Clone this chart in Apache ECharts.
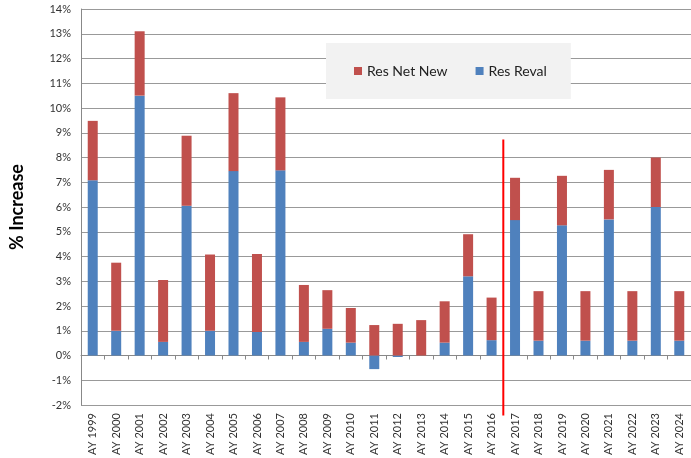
<!DOCTYPE html>
<html>
<head>
<meta charset="utf-8">
<script src="https://cdn.jsdelivr.net/npm/echarts@6/dist/echarts.min.js"></script>
<style>
html,body{margin:0;padding:0;background:#fff;}
#chart{width:691px;height:458px;}
</style>
</head>
<body>
<div id="chart"></div>
<script>
var categories = ['AY 1999','AY 2000','AY 2001','AY 2002','AY 2003','AY 2004','AY 2005','AY 2006','AY 2007','AY 2008','AY 2009','AY 2010','AY 2011','AY 2012','AY 2013','AY 2014','AY 2015','AY 2016','AY 2017','AY 2018','AY 2019','AY 2020','AY 2021','AY 2022','AY 2023','AY 2024'];
var resReval = [7.08, 1.0, 10.5, 0.55, 6.05, 1.0, 7.45, 0.95, 7.48, 0.55, 1.08, 0.52, -0.55, -0.06, 0.0, 0.52, 3.2, 0.62, 5.47, 0.6, 5.26, 0.6, 5.5, 0.6, 6.0, 0.6];
var resNetNew = [2.4, 2.75, 2.6, 2.5, 2.83, 3.08, 3.15, 3.15, 2.95, 2.3, 1.56, 1.4, 1.23, 1.28, 1.43, 1.67, 1.7, 1.72, 1.71, 2.0, 2.0, 2.0, 2.0, 2.0, 2.0, 2.0];
var dividerLine = [[18, 8.73], [18, -2.42]];

var font = 'Lato, "Open Sans", sans-serif';
var chart = echarts.init(document.getElementById('chart'), null, {renderer: 'canvas'});
chart.setOption({
  animation: false,
  textStyle: {fontFamily: font},
  grid: {left: 78, right: 0, top: 9, bottom: 53, containLabel: false},
  legend: {
    data: ['Res Net New', 'Res Reval'],
    left: 326, top: 43,
    padding: [21, 24, 21, 28],
    itemGap: 28,
    itemWidth: 8, itemHeight: 8,
    icon: 'rect',
    backgroundColor: '#f2f2f2',
    textStyle: {fontSize: 14, color: '#222', fontFamily: font}
  },
  xAxis: [
    {
      type: 'category', data: categories, position: 'bottom',
      axisLine: {show: false, onZero: false},
      axisTick: {show: false},
      axisLabel: {rotate: 90, interval: 0, fontSize: 11, color: '#333', margin: 8, fontFamily: font},
      splitLine: {show: false}
    },
    {
      type: 'category', data: categories, position: 'bottom',
      axisLine: {show: true, onZero: true, lineStyle: {color: '#888', width: 1}},
      axisTick: {show: true, length: 4, interval: 0, lineStyle: {color: '#888'}},
      axisLabel: {show: false},
      splitLine: {show: false}
    },
    {type: 'value', min: 0, max: 26, show: false, position: 'top'}
  ],
  yAxis: {
    type: 'value', min: -2, max: 14, interval: 1,
    axisLabel: {formatter: '{value}%', fontSize: 11, color: '#333', margin: 10, fontFamily: font},
    axisLine: {show: true, lineStyle: {color: '#888'}},
    axisTick: {show: false},
    splitLine: {lineStyle: {color: '#999', width: 1}},
    name: '% Increase', nameLocation: 'middle', nameGap: 55,
    nameTextStyle: {fontSize: 18, fontWeight: 'bold', color: '#000', fontFamily: font}
  },
  series: [
    {
      name: 'Res Reval', type: 'bar', stack: 'total', xAxisIndex: 0, barWidth: 10,
      itemStyle: {color: '#4f81bd'}, data: resReval
    },
    {
      name: 'Res Net New', type: 'bar', stack: 'total', xAxisIndex: 0, barWidth: 10,
      itemStyle: {color: '#c0504d'}, data: resNetNew
    },
    {
      name: 'divider', type: 'line', xAxisIndex: 2, yAxisIndex: 0, clip: false,
      symbol: 'none', silent: true,
      lineStyle: {color: '#ff0000', width: 2},
      data: dividerLine, z: 5
    }
  ]
});
</script>
</body>
</html>
